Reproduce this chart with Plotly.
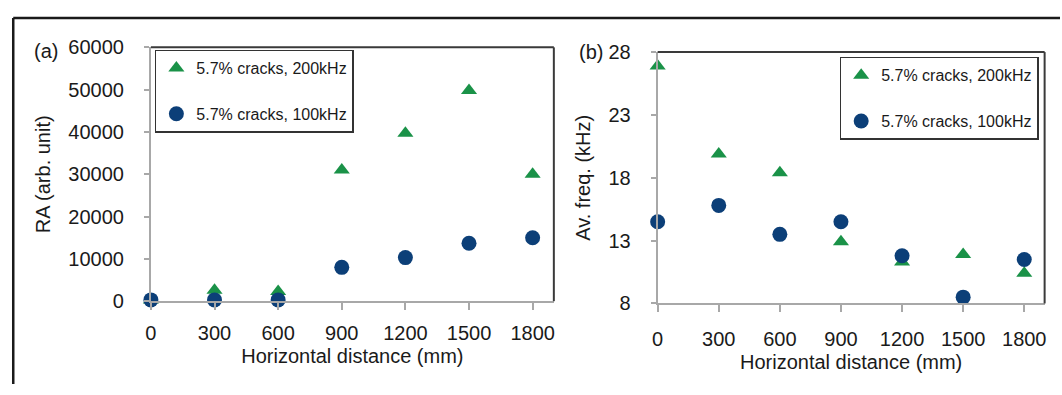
import plotly.graph_objects as go

distance = [0, 300, 600, 900, 1200, 1500, 1800]
x_ticks = [0, 300, 600, 900, 1200, 1500, 1800]

ra_200 = [300, 2600, 2300, 31000, 39700, 49800, 30000]
ra_100 = [300, 300, 300, 8000, 10300, 13700, 15000]

freq_200 = [26.9, 19.9, 18.4, 12.9, 11.3, 11.9, 10.4]
freq_100 = [14.5, 15.8, 13.5, 14.5, 11.8, 8.5, 11.5]

ra_ticks = [0, 10000, 20000, 30000, 40000, 50000, 60000]
freq_ticks = [8, 13, 18, 23, 28]

label_200 = "5.7% cracks, 200kHz"
label_100 = "5.7% cracks, 100kHz"

GREEN = "#1a9248"
BLUE = "#0c3f78"
W, H = 1062, 395
FONT = "Liberation Sans, Arial, sans-serif"

fig = go.Figure()

tri = dict(symbol="triangle-up", size=14, color=GREEN)
circ = dict(symbol="circle", size=15, color=BLUE)

fig.add_trace(go.Scatter(x=distance, y=ra_200, mode="markers", marker=tri, name=label_200,
                         xaxis="x", yaxis="y", legend="legend", legendgroup="a1", cliponaxis=False))
fig.add_trace(go.Scatter(x=distance, y=ra_100, mode="markers", marker=circ, name=label_100,
                         xaxis="x", yaxis="y", legend="legend", legendgroup="a2", cliponaxis=False))
fig.add_trace(go.Scatter(x=distance, y=freq_200, mode="markers", marker=tri, name=label_200,
                         xaxis="x2", yaxis="y2", legend="legend2", legendgroup="b1", cliponaxis=False))
fig.add_trace(go.Scatter(x=distance, y=freq_100, mode="markers", marker=circ, name=label_100,
                         xaxis="x2", yaxis="y2", legend="legend2", legendgroup="b2", cliponaxis=False))

def px_x(p):
    return p / W

def px_y(p):
    return 1 - p / H

ax_common = dict(showgrid=False, zeroline=False, showline=True, linecolor="#a8a8a8", linewidth=2,
                 ticks="outside", tickcolor="#a8a8a8", tickwidth=1.5,
                 tickfont=dict(size=20, color="#1a1a1a", family=FONT),
                 title_font=dict(size=20, color="#1a1a1a", family=FONT))

a_x0, a_x1, a_y0, a_y1 = 146, 552, 38.5, 307.3
b_x0, b_x1, b_y0, b_y1 = 656.6, 1046.5, 43.5, 309.7

fig.update_layout(
    width=W, height=H, margin=dict(l=0, r=0, t=0, b=0),
    paper_bgcolor="white", plot_bgcolor="white",
    font=dict(family=FONT, color="#1a1a1a"),
    xaxis=dict(domain=[px_x(a_x0), px_x(a_x1)], range=[0, 1900], tickvals=x_ticks, ticklen=7,
               ticklabelstandoff=6,
               title=dict(text="Horizontal distance (mm)", standoff=6), anchor="y", **ax_common),
    yaxis=dict(domain=[px_y(a_y1), px_y(a_y0)], range=[0, 60000], tickvals=ra_ticks, tickformat="d",
               ticklen=5, ticklabelstandoff=16,
               title=dict(text="RA (arb. unit)", standoff=12), anchor="x", **ax_common),
    xaxis2=dict(domain=[px_x(b_x0), px_x(b_x1)], range=[0, 1900], tickvals=x_ticks, ticklen=7,
                ticklabelstandoff=10,
                title=dict(text="Horizontal distance (mm)", standoff=6), anchor="y2", **ax_common),
    yaxis2=dict(domain=[px_y(b_y1), px_y(b_y0)], range=[8, 28], tickvals=freq_ticks,
                ticklen=5, ticklabelstandoff=16,
                title=dict(text="Av. freq. (kHz)", standoff=12), anchor="x2", **ax_common),
    legend=dict(x=px_x(150), y=px_y(40.8), xanchor="left", yanchor="top",
                bordercolor="#333333", borderwidth=1.5, bgcolor="white",
                font=dict(size=16, family=FONT, color="#1a1a1a"), tracegroupgap=22, traceorder="grouped"),
    legend2=dict(x=px_x(840), y=px_y(48.5), xanchor="left", yanchor="top",
                 bordercolor="#333333", borderwidth=1.5, bgcolor="white",
                 font=dict(size=16, family=FONT, color="#1a1a1a"), tracegroupgap=22, traceorder="grouped"),
    showlegend=True,
)

shapes = []
for xr, yr in (("x domain", "y domain"), ("x2 domain", "y2 domain")):
    shapes.append(dict(type="line", xref=xr, yref=yr, x0=0, x1=1, y0=1, y1=1,
                       line=dict(color="#3a3a3a", width=2)))
    shapes.append(dict(type="line", xref=xr, yref=yr, x0=1, x1=1, y0=0, y1=1,
                       line=dict(color="#3a3a3a", width=2)))
shapes.append(dict(type="line", xref="paper", yref="paper", x0=px_x(7.3), x1=1, y0=px_y(7.3), y1=px_y(7.3),
                   line=dict(color="#1a1a1a", width=2.5)))
shapes.append(dict(type="line", xref="paper", yref="paper", x0=px_x(7.3), x1=px_x(7.3), y0=0, y1=px_y(7.3),
                   line=dict(color="#1a1a1a", width=2.5)))
fig.update_layout(shapes=shapes)

fig.add_annotation(text="(a)", xref="paper", yref="paper", x=px_x(40), y=px_y(42), showarrow=False,
                   font=dict(size=20, family=FONT, color="#1a1a1a"), xanchor="center", yanchor="middle")
fig.add_annotation(text="(b)", xref="paper", yref="paper", x=px_x(589), y=px_y(43), showarrow=False,
                   font=dict(size=20, family=FONT, color="#1a1a1a"), xanchor="center", yanchor="middle")

fig.write_html("out.html")
